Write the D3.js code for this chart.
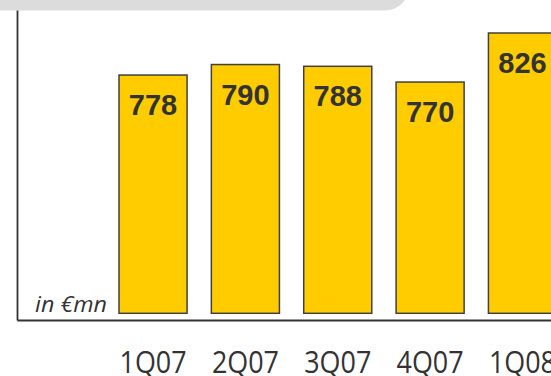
<!DOCTYPE html>
<html>
<head>
<meta charset="utf-8">
<script src="https://cdn.jsdelivr.net/npm/d3@7"></script>
<style>
  html, body { margin: 0; padding: 0; background: #fff; overflow: hidden; }
  svg { display: block; }
</style>
</head>
<body>
<svg id="chart" width="551" height="376"></svg>
<script>
// Quarterly figures, in € million
const quarters = ["1Q07", "2Q07", "3Q07", "4Q07", "1Q08"];
const values = [778, 790, 788, 770, 826];
const unitLabel = "in €mn";
// value axis is truncated: bars start from this baseline value
const baselineValue = 506;

const svg = d3.select("#chart");
const W = 551, H = 376;
const axisX = 17.5, axisY = 320.5;

// grey header band with rounded lower-right corner
svg.append("rect")
  .attr("x", -30).attr("y", -40)
  .attr("width", 439).attr("height", 50.5)
  .attr("rx", 24).attr("ry", 24)
  .attr("fill", "#dcdcdc");

const x = d3.scaleBand()
  .domain(quarters)
  .range([107, 568.5])
  .paddingInner(0.263)
  .paddingOuter(0.13);

const y = d3.scaleLinear()
  .domain([baselineValue, 826])
  .range([313.3, 33]);

// axis frame lines
svg.append("line")
  .attr("x1", axisX).attr("x2", axisX)
  .attr("y1", 10.5).attr("y2", axisY)
  .attr("stroke", "#333").attr("stroke-width", 1.8);
svg.append("line")
  .attr("x1", axisX).attr("x2", W)
  .attr("y1", axisY).attr("y2", axisY)
  .attr("stroke", "#333").attr("stroke-width", 1.8);

// bars
const data = quarters.map((q, i) => ({ q, v: values[i] }));
svg.append("g").selectAll("rect")
  .data(data)
  .join("rect")
  .attr("x", d => x(d.q))
  .attr("y", d => y(d.v))
  .attr("width", x.bandwidth())
  .attr("height", d => y(baselineValue) - y(d.v))
  .attr("fill", "#ffcc00")
  .attr("stroke", "#404040")
  .attr("stroke-width", 1.5);

// value labels inside the bar tops
svg.append("g").selectAll("text")
  .data(data)
  .join("text")
  .attr("x", d => x(d.q) + x.bandwidth() / 2)
  .attr("y", d => y(d.v) + 40)
  .attr("text-anchor", "middle")
  .attr("font-family", "'Liberation Sans', Arial, sans-serif")
  .attr("font-weight", "bold")
  .attr("font-size", 29)
  .attr("fill", "#333")
  .text(d => d.v);

// category labels below the axis
const xAxis = d3.axisBottom(x).tickSize(0).tickPadding(30);
const gx = svg.append("g")
  .attr("transform", `translate(0,${axisY})`)
  .call(xAxis);
gx.select(".domain").remove();
gx.selectAll("text")
  .attr("font-family", "'Open Sans', 'Noto Sans', sans-serif")
  .attr("font-size", 31)
  .attr("fill", "#333")
  .attr("textLength", 67)
  .attr("lengthAdjust", "spacingAndGlyphs");

// unit note
svg.append("text")
  .attr("x", 35).attr("y", 311.5)
  .attr("font-family", "'Open Sans', 'Noto Sans', sans-serif")
  .attr("font-style", "italic")
  .attr("font-size", 22)
  .attr("fill", "#333")
  .attr("textLength", 72)
  .attr("lengthAdjust", "spacingAndGlyphs")
  .text(unitLabel);
</script>
</body>
</html>
